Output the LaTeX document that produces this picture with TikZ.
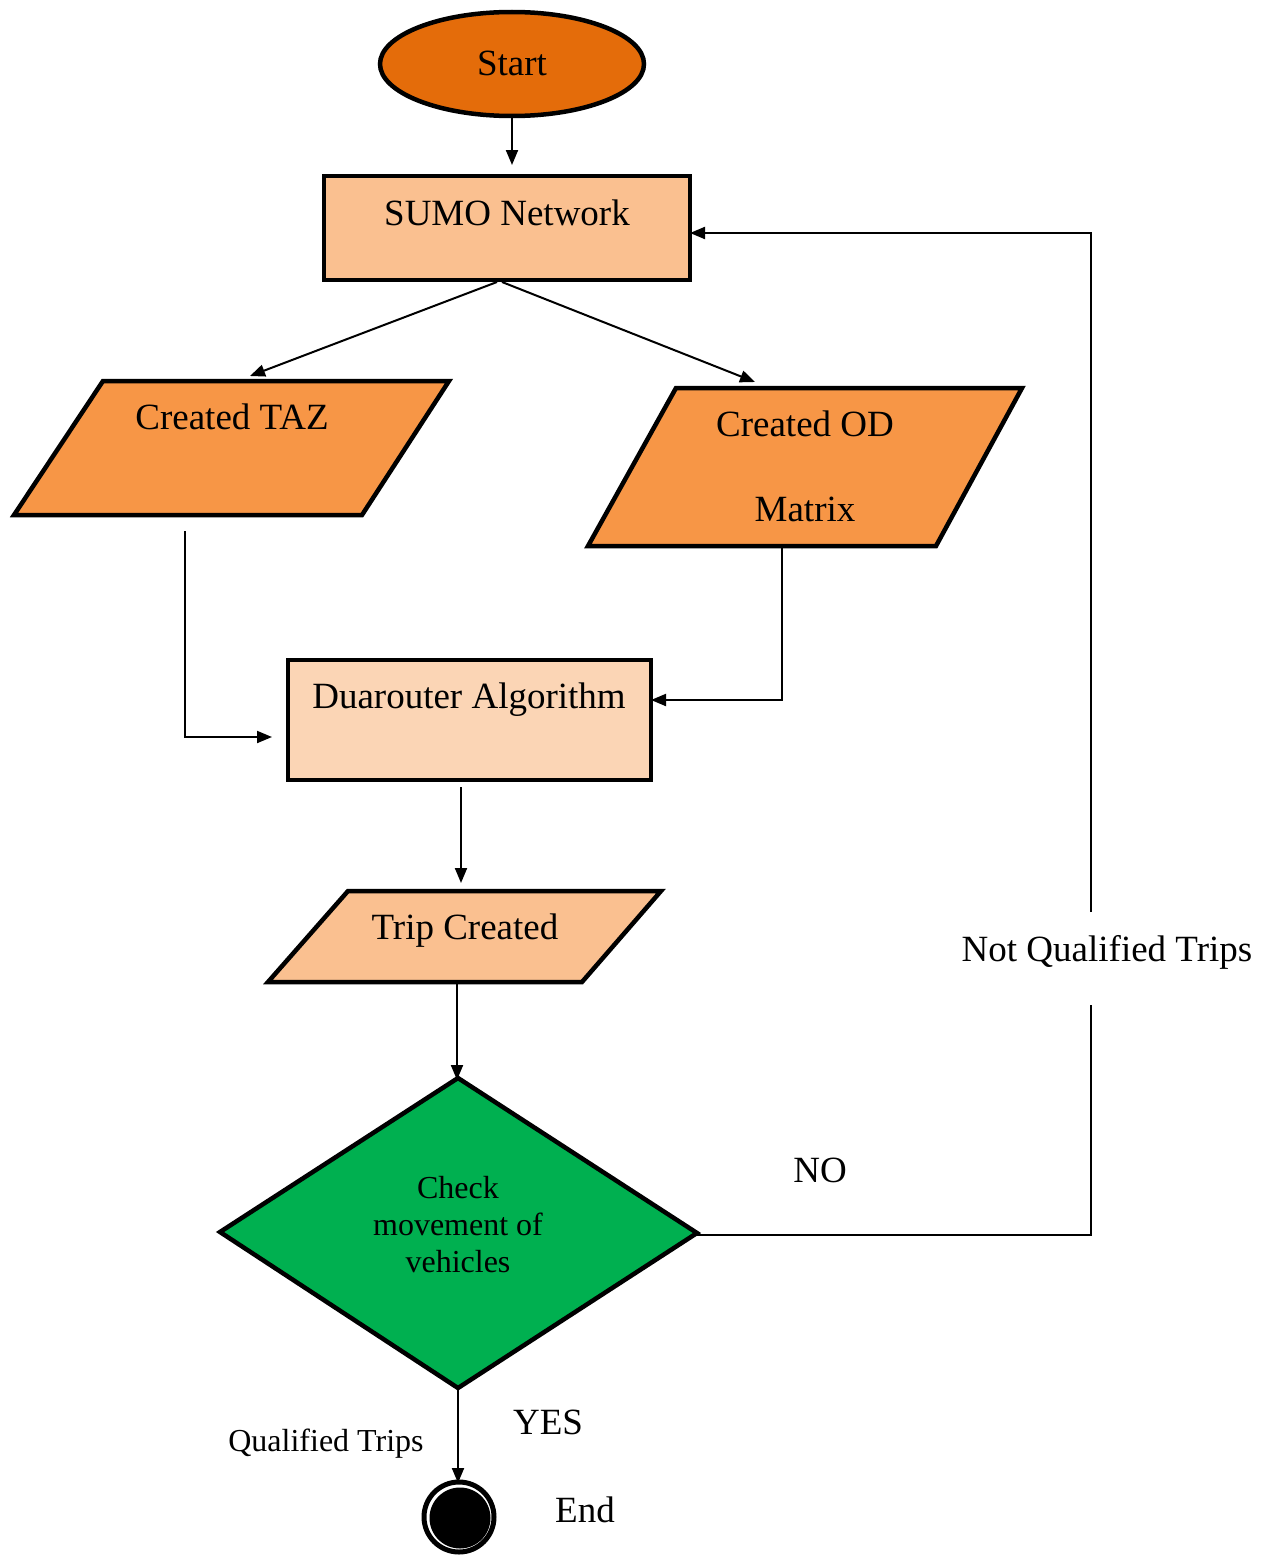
\documentclass[tikz,border=0pt]{standalone}
\usepackage{fontspec}
\setmainfont{Liberation Serif}
\usetikzlibrary{arrows.meta,shapes.geometric}
\definecolor{startorange}{HTML}{E46C0A}
\definecolor{lightpeach}{HTML}{FAC090}
\definecolor{midorange}{HTML}{F79646}
\definecolor{palepeach}{HTML}{FBD5B5}
\definecolor{decgreen}{HTML}{00B050}
\begin{document}
\begin{tikzpicture}[x=1pt,y=-1pt,
  shapeline/.style={draw=black,line width=4.5pt,line join=miter},
  conn/.style={draw=black,line width=2pt,-{Triangle[length=15pt,width=12pt]}},
  plainline/.style={draw=black,line width=2pt},
  big/.style={font=\fontsize{37}{44}\selectfont,anchor=base,inner sep=0pt},
  small/.style={font=\fontsize{32}{37}\selectfont,anchor=base,inner sep=0pt}]
\useasboundingbox (0,0) rectangle (1267,1555);

% start terminal
\node[ellipse,shapeline,fill=startorange,minimum width=264pt,minimum height=104pt,inner sep=0pt] (start) at (512,64) {};
\node[big] (starttxt) at (512,76) {Start};

% SUMO network box
\draw[shapeline,fill=lightpeach] (324,176) rectangle (690,280);
\coordinate (sumotop) at (512,165);
\coordinate (sumoL) at (497,282);
\coordinate (sumoR) at (502,282);
\coordinate (sumoE) at (690,233);
\node[big] (sumo) at (507,225) {SUMO Network};

% created TAZ
\draw[shapeline,fill=midorange] (103,381) -- (449,381) -- (362,515) -- (14,515) -- cycle;
\node[big] (taz) at (232,429) {Created TAZ};
\coordinate (taztop) at (250,376);
\coordinate (tazout) at (185,531);

% created OD matrix
\draw[shapeline,fill=midorange] (676,388) -- (1022,388) -- (936,546) -- (588,546) -- cycle;
\node[big] (od1) at (805,436) {Created OD};
\node[big] (od2) at (805,521) {Matrix};
\coordinate (odtop) at (755,382);
\coordinate (odout) at (782,547);

% duarouter box
\draw[shapeline,fill=palepeach] (288,660) rectangle (651,780);
\node[big] (dua) at (469,708) {Duarouter Algorithm};
\coordinate (duaW) at (272,737);
\coordinate (duaE) at (651,700);
\coordinate (duaout) at (461,787);

% trip created
\draw[shapeline,fill=lightpeach] (348,891) -- (661,891) -- (582,982) -- (268,982) -- cycle;
\node[big] (trip) at (465,939) {Trip Created};
\coordinate (triptop) at (461,883);
\coordinate (tripout) at (457,982);

% decision diamond
\draw[shapeline,fill=decgreen] (458,1078) -- (697,1233) -- (458,1388) -- (220,1232) -- cycle;
\node[small] (chk1) at (458,1198) {Check};
\node[small] (chk2) at (458,1235) {movement of};
\node[small] (chk3) at (458,1272) {vehicles};
\coordinate (dtop) at (457,1080);
\coordinate (dright) at (697,1235);
\coordinate (dbottom) at (458,1388);

% end terminal
\coordinate (endtop) at (458,1483);
\draw[black,line width=5pt] (459,1517) circle (35);
\fill[black] (460,1518) circle (30.5);
\node[big] (endtxt) at (585,1522) {End};

% labels
\node[big] (no) at (820,1182) {NO};
\node[big] (yes) at (548,1434) {YES};
\node[small] (qual) at (326,1451) {Qualified Trips};
\node[big] (notq) at (1107,961) {Not Qualified Trips};

% connectors
\draw[conn] (start.south) -- (sumotop);
\draw[conn] (sumoL) -- (taztop);
\draw[conn] (sumoR) -- (odtop);
\draw[conn] (tazout) |- (duaW);
\draw[conn] (odout) |- (duaE);
\draw[conn] (duaout) -- (triptop);
\draw[conn] (tripout) -- (dtop);
\draw[conn] (dbottom) -- (endtop);
\coordinate (loopA) at (1091,1005);
\coordinate (loopB) at (1091,912);
\draw[plainline] (dright) -| (loopA);
\draw[conn] (loopB) |- (sumoE);
\end{tikzpicture}
\end{document}
